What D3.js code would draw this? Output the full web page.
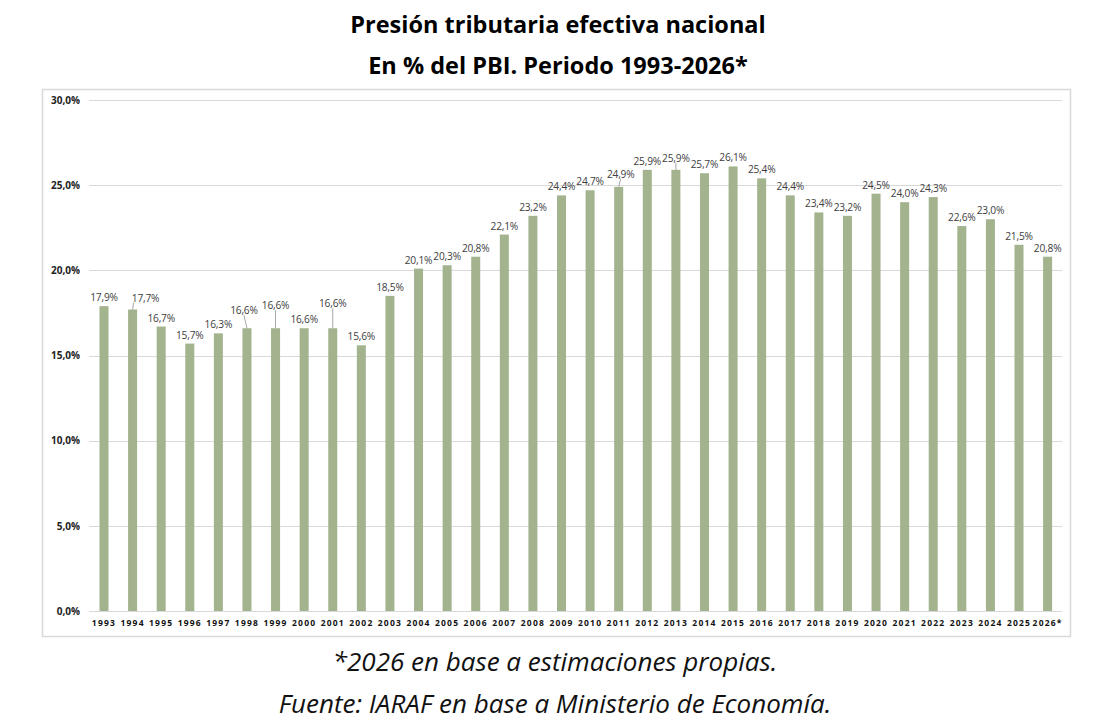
<!DOCTYPE html>
<html><head><meta charset="utf-8">
<script src="https://cdn.jsdelivr.net/npm/d3@7"></script>
<style>body{margin:0;background:#fff;}svg{display:block;}</style>
</head><body>
<svg id="c" width="1101" height="725"></svg>
<script>
const years = ["1993","1994","1995","1996","1997","1998","1999","2000","2001","2002","2003","2004","2005","2006","2007","2008","2009","2010","2011","2012","2013","2014","2015","2016","2017","2018","2019","2020","2021","2022","2023","2024","2025","2026*"];
const values = [17.9,17.7,16.7,15.7,16.3,16.6,16.6,16.6,16.6,15.6,18.5,20.1,20.3,20.8,22.1,23.2,24.4,24.7,24.9,25.9,25.9,25.7,26.1,25.4,24.4,23.4,23.2,24.5,24.0,24.3,22.6,23.0,21.5,20.8];
const yTicks = [0,5,10,15,20,25,30];
const titleLines = ["Presión tributaria efectiva nacional","En % del PBI. Periodo 1993-2026*"];
const footLines = ["*2026 en base a estimaciones propias.","Fuente: IARAF en base a Ministerio de Economía."];
// label nudges (layout): [dx, dy] extra offset relative to default placement
const labelNudge = {"1994":[13,-3],"1998":[-3,-9],"1999":[0,-14],"2001":[0,-16],"2011":[2,-4],"2013":[0,-3]};

const svg = d3.select("#c");
const fmt = v => v.toFixed(1).replace(".", ",") + "%";

// chart border
svg.append("rect").attr("x",42.5).attr("y",89.5).attr("width",1028).attr("height",547)
  .attr("fill","none").attr("stroke","#d9d9d9").attr("stroke-width",1.5);

const x = d3.scaleBand().domain(years).range([89.7,1061.9]).paddingInner(0.685).paddingOuter(0.3425);
const y = d3.scaleLinear().domain([0,30]).range([611,100]);

// gridlines
svg.append("g").selectAll("line").data(yTicks).join("line")
  .attr("x1",89).attr("x2",1062).attr("y1",d=>Math.round(y(d))+0.5).attr("y2",d=>Math.round(y(d))+0.5)
  .attr("stroke","#d9d9d9").attr("stroke-width",1.2);

// y labels
const yAxis = d3.axisLeft(y).tickValues(yTicks).tickSize(0).tickPadding(0)
  .tickFormat(d=>d.toFixed(1).replace(".",",")+"%");
const gy = svg.append("g").attr("transform","translate(80,0)").call(yAxis);
gy.select(".domain").remove();
gy.selectAll("text").attr("font-family","'Open Sans', sans-serif").attr("font-weight","bold")
  .attr("font-size",10).attr("fill","#222");

// bars
svg.append("g").selectAll("rect").data(values).join("rect")
  .attr("x",(d,i)=>x(years[i])).attr("width",x.bandwidth())
  .attr("y",d=>y(d)).attr("height",d=>y(0)-y(d)).attr("fill","#a2b38e");

// x labels
const xAxis = d3.axisBottom(x).tickSize(0).tickPadding(0);
const gx = svg.append("g").attr("transform","translate(0,620)").call(xAxis);
gx.select(".domain").remove();
gx.selectAll("text").attr("font-family","'Open Sans', sans-serif").attr("font-weight","bold")
  .attr("font-size",8.5).attr("letter-spacing","1.2px").attr("fill","#111").attr("dy","0.71em");

// value labels
const lg = svg.append("g");
values.forEach((v,i)=>{
  const yr = years[i];
  const cx = x(yr) + x.bandwidth()/2;
  const top = y(v);
  const n = labelNudge[yr] || [0,0];
  const lx = cx + n[0], ly = top - 5 + n[1];
  if (labelNudge[yr]) {
    lg.append("line").attr("x1",cx).attr("y1",top).attr("x2",n[0]>5?lx-12:lx).attr("y2",ly+1)
      .attr("stroke","#a6a6a6").attr("stroke-width",1);
  }
  lg.append("text").attr("x",lx).attr("y",ly).attr("text-anchor","middle")
    .attr("font-family","'Open Sans', sans-serif").attr("font-size",10.2).attr("letter-spacing","-0.2px")
    .attr("fill","#404040").text(fmt(v));
});

// titles
svg.append("g").selectAll("text").data(titleLines).join("text")
  .attr("x",558).attr("y",(d,i)=>33+i*41).attr("text-anchor","middle")
  .attr("font-family","'Open Sans', sans-serif").attr("font-weight","bold").attr("font-size",23.5)
  .attr("fill","#000").text(d=>d);

svg.append("g").selectAll("text").data(footLines).join("text")
  .attr("x",555).attr("y",(d,i)=>671+i*42).attr("text-anchor","middle")
  .attr("font-family","'Open Sans', sans-serif").attr("font-style","italic").attr("font-size",26)
  .attr("fill","#111").text(d=>d);
</script>
</body></html>
